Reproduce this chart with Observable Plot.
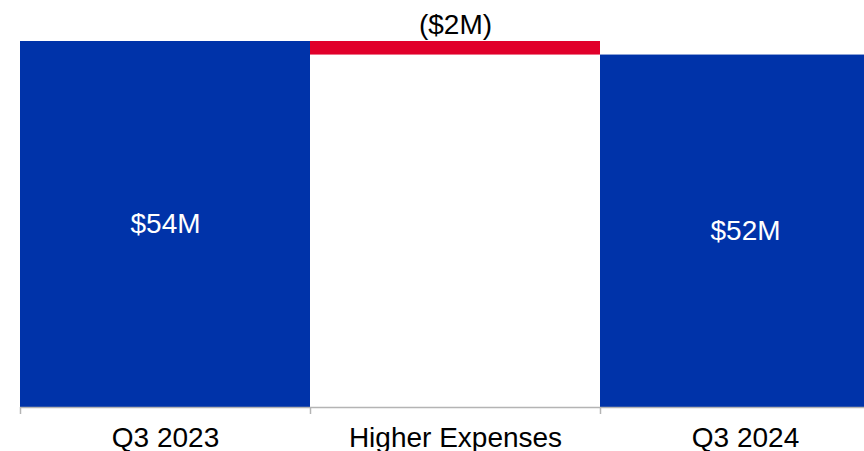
<!DOCTYPE html>
<html>
<head>
<meta charset="utf-8">
<script src="https://cdn.jsdelivr.net/npm/d3@7"></script>
<script src="https://cdn.jsdelivr.net/npm/@observablehq/plot@0.6"></script>
<style>
  html, body { margin: 0; padding: 0; background: #fff; overflow: hidden; }
  #chart svg { display: block; overflow: hidden; }
</style>
</head>
<body>
<div id="chart"></div>
<script>
// Quarter-over-quarter bridge, $ millions
const categories = ["Q3 2023", "Higher Expenses", "Q3 2024"];
const kinds = ["total", "delta", "total"];
const values = [54, -2, 52];
const labels = ["$54M", "($2M)", "$52M"];

// Build waterfall segments: totals start at zero, deltas float from the running level
let level = 0;
const rows = categories.map((c, i) => {
  let y1, y2;
  if (kinds[i] === "total") { y1 = 0; y2 = values[i]; level = values[i]; }
  else { y1 = level; y2 = level + values[i]; level = y2; }
  return {category: c, kind: kinds[i], y1, y2, lo: Math.min(y1, y2), hi: Math.max(y1, y2), label: labels[i]};
});

const W = 864, H = 451;
const marginLeft = 20, marginRight = -26;
const halfBand = (W - marginLeft - marginRight) / categories.length / 2;
const font = "Liberation Sans, Arial, sans-serif";

const chart = Plot.plot({
  width: W,
  height: H,
  marginTop: 41,
  marginBottom: 44,
  marginLeft,
  marginRight,
  style: {fontFamily: font, background: "#fff"},
  x: {type: "band", domain: categories, padding: 0, axis: null},
  y: {domain: [0, 54], axis: null},
  marks: [
    Plot.barY(rows, {
      x: "category", y1: "lo", y2: "hi",
      fill: d => d.kind === "total" ? "#0033a9" : "#e1002a",
      insetLeft: 0, insetRight: 0
    }),
    Plot.ruleY([0], {stroke: "#b4b4b4", strokeWidth: 1.5}),
    // boundary ticks between categories
    Plot.axisX({tickSize: 7, text: null, label: null, dx: -halfBand, stroke: "#b4b4b4", strokeWidth: 1.5}),
    Plot.axisX({tickSize: 0, tickPadding: 20, label: null, fontSize: 28, fill: "#000", fontFamily: font}),
    // value labels inside totals
    Plot.text(rows.filter(d => d.kind === "total"), {
      x: "category", y: d => (d.lo + d.hi) / 2, text: "label",
      fill: "#fff", fontSize: 28, fontFamily: font
    }),
    // change label above the floating bar
    Plot.text(rows.filter(d => d.kind === "delta"), {
      x: "category", y: "hi", text: "label", lineAnchor: "bottom", dy: -8,
      fill: "#000", fontSize: 28, fontFamily: font
    })
  ]
});
document.getElementById("chart").appendChild(chart);
</script>
</body>
</html>
